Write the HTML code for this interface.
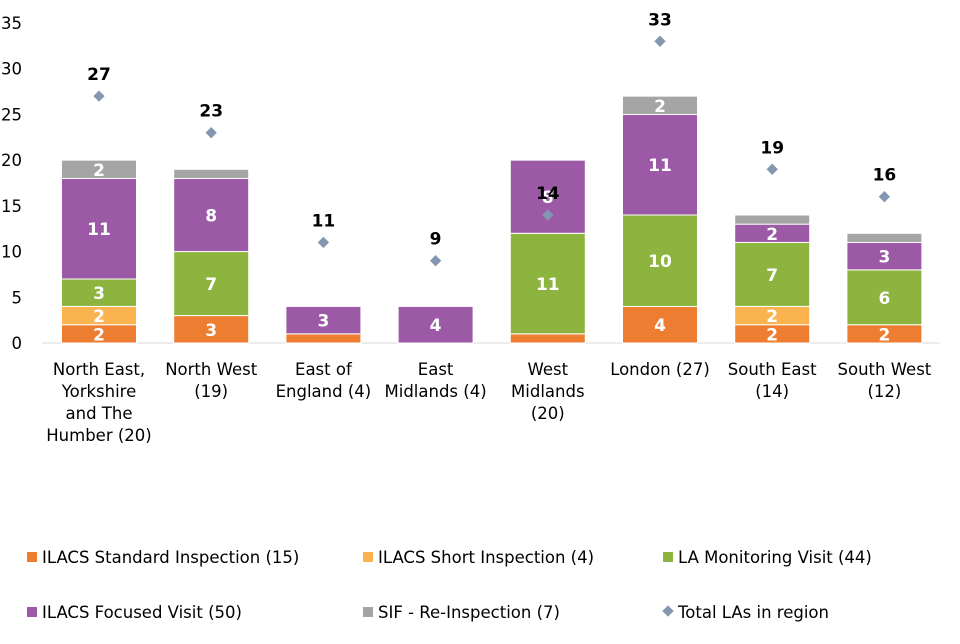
<!DOCTYPE html>
<html><head><meta charset="utf-8"><style>
body{margin:0;background:#fff;font-family:"DejaVu Sans","Liberation Sans",sans-serif;}
svg text{font-family:"DejaVu Sans","Liberation Sans",sans-serif;}
</style></head><body>
<svg id="c" width="960" height="640"></svg>
<script>
const categories=["North East,|Yorkshire|and The|Humber (20)","North West|(19)","East of|England (4)","East|Midlands (4)","West|Midlands|(20)","London (27)","South East|(14)","South West|(12)"];
const standard=[2,3,1,0,1,4,2,2];
const shortInsp=[2,0,0,0,0,0,2,0];
const monitoring=[3,7,0,0,11,10,7,6];
const focused=[11,8,3,4,8,11,2,3];
const sif=[2,1,0,0,0,2,1,1];
const totals=[27,23,11,9,14,33,19,16];
const yTicks=[0,5,10,15,20,25,30,35];
const seriesNames=["ILACS Standard Inspection (15)","ILACS Short Inspection (4)","LA Monitoring Visit (44)","ILACS Focused Visit (50)","SIF - Re-Inspection (7)","Total LAs in region"];
const series=[standard,shortInsp,monitoring,focused,sif];
const colors=["#ED7D31","#FBB350","#8CB43E","#9B59A6","#A5A5A5"];
const NS="http://www.w3.org/2000/svg";
const svg=document.getElementById('c');
const y=v=>343-v*320/35;
const x=i=>99+i*112.2;
function mk(t,a,p){const e=document.createElementNS(NS,t);for(const k in a)e.setAttribute(k,a[k]);(p||svg).appendChild(e);return e;}
yTicks.forEach(t=>{const e=mk('text',{x:22,y:y(t)+6,'text-anchor':'end','font-size':16.5,fill:'#000'});e.textContent=t;

});
const base=mk('line',{x1:42,x2:940,y1:343,y2:343,stroke:'#D9D9D9'});


categories.forEach((c,i)=>{let acc=0;
 series.forEach((s,k)=>{const v=s[i];if(!v)return;
  const r=mk('rect',{x:x(i)-37.5,y:y(acc+v),width:75,height:y(acc)-y(acc+v),fill:colors[k],stroke:'#fff','stroke-width':1});
  
  
  if(v>=2){const t=mk('text',{x:x(i),y:(y(acc)+y(acc+v))/2+6.5,'text-anchor':'middle','font-size':17,'font-weight':'bold',fill:'#fff'});t.textContent=v;
  
  }
  acc+=v;});
 const d=mk('rect',{x:x(i)-4,y:y(totals[i])-4,width:8,height:8,fill:'#8497B0',transform:`rotate(45 ${x(i)} ${y(totals[i])})`});
 
 
 const tl=mk('text',{x:x(i),y:y(totals[i])-16,'text-anchor':'middle','font-size':17,'font-weight':'bold',fill:'#000'});tl.textContent=totals[i];
 
 
 c.split('|').forEach((ln,j)=>{const t=mk('text',{x:x(i),y:375+j*22,'text-anchor':'middle','font-size':16.5,fill:'#000'});t.textContent=ln;
  
  });
});
const legPos=[[30,557],[366,557],[666,557],[30,612],[366,612],[666,612]];
seriesNames.forEach((n,k)=>{const [lx,ly]=legPos[k];
 const g=mk('g',{});
 
 
 if(k<5)mk('rect',{x:lx-3,y:ly-5,width:10,height:10,fill:colors[k]},g);
 else mk('rect',{x:lx-2,y:ly-5,width:8,height:8,fill:'#8497B0',transform:`rotate(45 ${lx+2} ${ly-1})`},g);
 const t=mk('text',{x:lx+12,y:ly+6,'font-size':16.5,fill:'#000'},g);t.textContent=n;});
</script>
</body></html>
